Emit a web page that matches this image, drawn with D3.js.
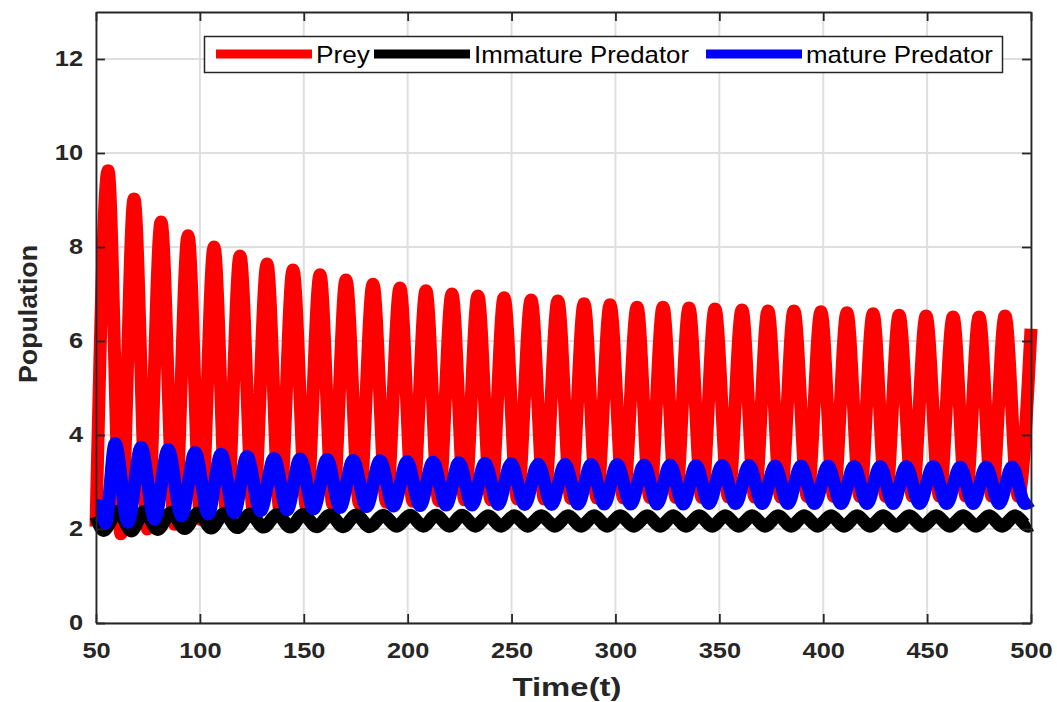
<!DOCTYPE html>
<html>
<head>
<meta charset="utf-8">
<script src="https://cdn.jsdelivr.net/npm/d3@7"></script>
<style>
  body { margin: 0; background: #fff; }
  svg { display: block; }
  text { font-family: "Liberation Sans", Arial, sans-serif; }
</style>
</head>
<body>
<svg id="chart" width="1057" height="702"></svg>
<script>
// turning points: [time, population]
var preyPts = [[50,2.05],[55.8,9.62],[62.0,1.90],[68.3,9.02],[74.8,2.00],[81.3,8.53],[87.8,2.10],[94.3,8.24],
  [100.5,2.20],[106.8,8.00],[113.0,2.30],[119.3,7.81],[125.8,2.37],[132.3,7.64],[138.5,2.42],[144.8,7.51],
  [151.3,2.47],[157.8,7.41],[164.0,2.52],[170.3,7.30],[176.8,2.54],[183.3,7.21],[189.8,2.57],[196.3,7.13],
  [202.5,2.59],[208.8,7.07],[215.0,2.60],[221.3,7.00],[227.5,2.62],[233.8,6.96],[240.1,2.62],[246.4,6.92],
  [252.9,2.64],[259.4,6.87],[265.8,2.64],[272.3,6.85],[278.6,2.65],[284.9,6.79],[291.1,2.66],[297.4,6.77],
  [303.9,2.66],[310.4,6.72],[316.6,2.67],[322.9,6.72],[329.1,2.67],[335.4,6.70],[341.6,2.67],[347.9,6.68],
  [354.4,2.68],[360.9,6.66],[367.1,2.68],[373.4,6.64],[379.6,2.68],[385.9,6.64],[392.4,2.69],[398.9,6.62],
  [405.1,2.69],[411.4,6.60],[417.7,2.69],[424.0,6.58],[430.2,2.69],[436.5,6.55],[443.0,2.70],[449.5,6.53],
  [456.0,2.70],[462.5,6.51],[468.7,2.70],[475.0,6.51],[481.2,2.70],[487.5,6.53],[493.9,2.70],[500,6.26]];

var immaturePts = [[50,2.27],[53.6,1.97],[60.7,2.38],[67.0,1.96],[73.2,2.37],[79.7,1.99],[86.2,2.35],[92.7,2.01],
  [99.2,2.34],[105.5,2.02],[111.7,2.33],[118.0,2.03],[124.2,2.32],[130.7,2.04],[137.2,2.31],[143.5,2.04],
  [149.7,2.31],[156.2,2.05],[162.7,2.30],[169.0,2.05],[175.2,2.30],[181.7,2.05],[188.2,2.29],[194.7,2.06],
  [201.2,2.29],[207.5,2.06],[213.7,2.29],[220.0,2.06],[226.2,2.29],[232.5,2.06],[238.7,2.28],[245.0,2.06],
  [251.3,2.28],[257.8,2.06],[264.3,2.28],[270.8,2.06],[277.2,2.28],[283.5,2.06],[289.8,2.28],[296.0,2.06],
  [302.3,2.28],[308.8,2.06],[315.3,2.28],[321.6,2.06],[327.8,2.28],[334.0,2.06],[340.3,2.28],[346.6,2.06],
  [352.8,2.28],[359.3,2.06],[365.8,2.28],[372.0,2.06],[378.3,2.28],[384.6,2.06],[390.8,2.28],[397.3,2.06],
  [403.8,2.28],[410.0,2.06],[416.3,2.28],[422.6,2.06],[428.9,2.28],[435.1,2.06],[441.4,2.28],[447.9,2.06],
  [454.4,2.28],[460.9,2.06],[467.4,2.28],[473.6,2.06],[479.9,2.28],[486.1,2.06],[492.4,2.28],[498.7,2.06],[500,2.08]];

var maturePts = [[50,2.50],[52.2,2.48],[54.6,2.12],[59.2,3.82],[65.4,2.14],[71.7,3.74],[78.2,2.21],[84.7,3.69],
  [91.2,2.28],[97.7,3.63],[104.0,2.32],[110.2,3.59],[116.5,2.35],[122.7,3.54],[129.2,2.39],[135.7,3.50],
  [142.0,2.41],[148.2,3.49],[154.7,2.43],[161.2,3.48],[167.5,2.46],[173.7,3.46],[180.2,2.48],[186.7,3.45],
  [193.2,2.49],[199.7,3.43],[206.0,2.50],[212.2,3.42],[218.5,2.51],[224.7,3.41],[231.0,2.51],[237.2,3.40],
  [243.5,2.52],[249.8,3.39],[256.3,2.52],[262.8,3.38],[269.3,2.52],[275.7,3.38],[282.0,2.53],[288.3,3.37],
  [294.6,2.53],[300.8,3.37],[307.3,2.53],[313.8,3.36],[320.0,2.53],[326.3,3.36],[332.6,2.53],[338.8,3.35],
  [345.0,2.54],[351.3,3.35],[357.8,2.54],[364.3,3.35],[370.6,2.54],[376.8,3.34],[383.0,2.54],[389.3,3.34],
  [395.8,2.54],[402.3,3.34],[408.6,2.54],[414.8,3.33],[421.1,2.54],[427.4,3.33],[433.7,2.54],[439.9,3.33],
  [446.4,2.54],[452.9,3.33],[459.4,2.54],[465.9,3.32],[472.2,2.54],[478.4,3.32],[484.7,2.54],[490.9,3.32],
  [497.2,2.54],[500,2.60]];

var xTicks = [50,100,150,200,250,300,350,400,450,500];
var yTicks = [0,2,4,6,8,10,12];
var seriesNames = ["Prey", "Immature Predator", "mature Predator"];
var seriesColors = ["#ff0000", "#000000", "#0000ff"];

var m = {left: 96, right: 1031, top: 12, bottom: 623};
var svg = d3.select("#chart");
var ink = "#262626";
var stretch = 1.18; // the figure is wider than its fonts

var x = d3.scaleLinear().domain([50, 500]).range([m.left, m.right]);
var y = d3.scaleLinear().domain([0, 13]).range([m.bottom, m.top]);

function widen(sel, k) {
  sel.each(function() {
    var len = this.getComputedTextLength();
    d3.select(this).attr("textLength", len * k).attr("lengthAdjust", "spacingAndGlyphs");
  });
}

// grid
var grid = svg.append("g").attr("stroke", "#dfdfdf").attr("stroke-width", 2);
grid.selectAll("line.gx").data(xTicks).enter().append("line")
  .attr("x1", d => x(d)).attr("x2", d => x(d)).attr("y1", m.top).attr("y2", m.bottom);
grid.selectAll("line.gy").data(yTicks).enter().append("line")
  .attr("x1", m.left).attr("x2", m.right).attr("y1", d => y(d)).attr("y2", d => y(d));

// series
var line = d3.line().x(d => x(d[0])).y(d => y(d[1])).curve(d3.curveMonotoneX);

[preyPts, immaturePts, maturePts].forEach(function(pts, i) {
  svg.append("path")
    .attr("d", line(pts))
    .attr("fill", "none")
    .attr("stroke", seriesColors[i])
    .attr("stroke-width", 13)
    .attr("stroke-linejoin", "round");
});

// axes, ticks on all four sides pointing in
function styleAxis(g) {
  g.select(".domain").attr("stroke", ink).attr("stroke-width", 1.8);
  g.selectAll(".tick line").attr("stroke", ink).attr("stroke-width", 1.8);
  g.selectAll("text").attr("fill", ink).attr("font-size", 21.5).attr("font-weight", "bold");
}

var gx = svg.append("g").attr("transform", "translate(0," + m.bottom + ")")
  .call(d3.axisBottom(x).tickValues(xTicks).tickSizeInner(-9).tickSizeOuter(0).tickPadding(20));
styleAxis(gx);
gx.selectAll("text").attr("font-family", "Liberation Sans, Arial, sans-serif");
widen(gx.selectAll("text"), stretch);

var gy = svg.append("g").attr("transform", "translate(" + m.left + ",0)")
  .call(d3.axisLeft(y).tickValues(yTicks).tickSizeInner(-9).tickSizeOuter(0).tickPadding(13));
styleAxis(gy);
widen(gy.selectAll("text"), stretch);

var gt = svg.append("g").attr("transform", "translate(0," + m.top + ")")
  .call(d3.axisTop(x).tickValues(xTicks).tickSizeInner(-9).tickSizeOuter(0).tickFormat(""));
styleAxis(gt);
var gr = svg.append("g").attr("transform", "translate(" + m.right + ",0)")
  .call(d3.axisRight(y).tickValues(yTicks).tickSizeInner(-9).tickSizeOuter(0).tickFormat(""));
styleAxis(gr);

// axis titles
svg.append("text")
  .attr("x", 567).attr("y", 696)
  .attr("text-anchor", "middle").attr("font-size", 26).attr("font-weight", "bold").attr("fill", ink)
  .attr("textLength", 109).attr("lengthAdjust", "spacingAndGlyphs")
  .text("Time(t)");

svg.append("text")
  .attr("transform", "translate(37,314) rotate(-90)")
  .attr("text-anchor", "middle").attr("font-size", 26).attr("font-weight", "bold").attr("fill", ink)
  .attr("textLength", 138).attr("lengthAdjust", "spacingAndGlyphs")
  .text("Population");

// legend
var lg = svg.append("g");
lg.append("rect").attr("x", 204.5).attr("y", 36.5).attr("width", 798).attr("height", 36)
  .attr("fill", "#fff").attr("stroke", ink).attr("stroke-width", 1.5);
var sampleX = [216, 374, 706];
var labelLen = [54, 215, 187];
seriesNames.forEach(function(name, i) {
  lg.append("line").attr("x1", sampleX[i]).attr("x2", sampleX[i] + 96).attr("y1", 54).attr("y2", 54)
    .attr("stroke", seriesColors[i]).attr("stroke-width", 9);
  lg.append("text").attr("x", sampleX[i] + 100).attr("y", 63)
    .attr("font-size", 24).attr("fill", "#000")
    .attr("textLength", labelLen[i]).attr("lengthAdjust", "spacingAndGlyphs")
    .text(name);
});
</script>
</body>
</html>
